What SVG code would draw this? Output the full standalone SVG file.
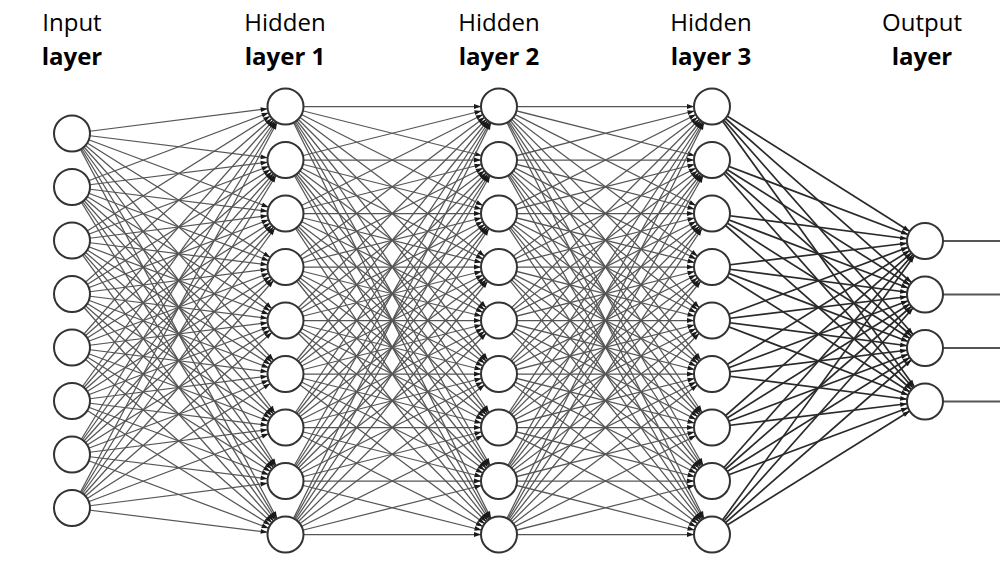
<svg xmlns="http://www.w3.org/2000/svg" width="1000" height="562" viewBox="0 0 1000 562">
<style>
.t{font-family:"Open Sans","Liberation Sans",sans-serif;font-size:24px;fill:#000;text-anchor:middle}
.b{font-weight:bold}
.n{fill:#fff;stroke:#333;stroke-width:2}
.e line{stroke:#555;stroke-width:1.25;marker-end:url(#ah)}
.e2 line{stroke:#2a2a2a;stroke-width:1.7;marker-end:url(#ah)}
.o line{stroke:#555;stroke-width:2}
</style>
<defs>
<marker id="ah" viewBox="0 0 30 10" refX="26.5" refY="5" markerWidth="30" markerHeight="10" markerUnits="userSpaceOnUse" orient="auto">
<path d="M1.5 2.6L8.5 5L1.5 7.4z" fill="#1a1a1a"/>
</marker>
</defs>
<rect width="1000" height="562" fill="#fff"/>
<g id="labels">
<text class="t" x="72" y="31">Input</text>
<text class="t b" x="72" y="65">layer</text>
<text class="t" x="285" y="31">Hidden</text>
<text class="t b" x="285" y="65">layer 1</text>
<text class="t" x="499" y="31">Hidden</text>
<text class="t b" x="499" y="65">layer 2</text>
<text class="t" x="711" y="31">Hidden</text>
<text class="t b" x="711" y="65">layer 3</text>
<text class="t" x="922" y="31">Output</text>
<text class="t b" x="922" y="65">layer</text>
</g>
<g id="connectors">
<g class="e">
<line x1="72" y1="133.5" x2="285.5" y2="106.5"/><line x1="72" y1="133.5" x2="285.5" y2="160"/><line x1="72" y1="133.5" x2="285.5" y2="213.5"/><line x1="72" y1="133.5" x2="285.5" y2="267"/><line x1="72" y1="133.5" x2="285.5" y2="320.5"/><line x1="72" y1="133.5" x2="285.5" y2="374"/><line x1="72" y1="133.5" x2="285.5" y2="427.5"/><line x1="72" y1="133.5" x2="285.5" y2="481"/><line x1="72" y1="133.5" x2="285.5" y2="534.5"/>
<line x1="72" y1="187" x2="285.5" y2="106.5"/><line x1="72" y1="187" x2="285.5" y2="160"/><line x1="72" y1="187" x2="285.5" y2="213.5"/><line x1="72" y1="187" x2="285.5" y2="267"/><line x1="72" y1="187" x2="285.5" y2="320.5"/><line x1="72" y1="187" x2="285.5" y2="374"/><line x1="72" y1="187" x2="285.5" y2="427.5"/><line x1="72" y1="187" x2="285.5" y2="481"/><line x1="72" y1="187" x2="285.5" y2="534.5"/>
<line x1="72" y1="240.5" x2="285.5" y2="106.5"/><line x1="72" y1="240.5" x2="285.5" y2="160"/><line x1="72" y1="240.5" x2="285.5" y2="213.5"/><line x1="72" y1="240.5" x2="285.5" y2="267"/><line x1="72" y1="240.5" x2="285.5" y2="320.5"/><line x1="72" y1="240.5" x2="285.5" y2="374"/><line x1="72" y1="240.5" x2="285.5" y2="427.5"/><line x1="72" y1="240.5" x2="285.5" y2="481"/><line x1="72" y1="240.5" x2="285.5" y2="534.5"/>
<line x1="72" y1="294" x2="285.5" y2="106.5"/><line x1="72" y1="294" x2="285.5" y2="160"/><line x1="72" y1="294" x2="285.5" y2="213.5"/><line x1="72" y1="294" x2="285.5" y2="267"/><line x1="72" y1="294" x2="285.5" y2="320.5"/><line x1="72" y1="294" x2="285.5" y2="374"/><line x1="72" y1="294" x2="285.5" y2="427.5"/><line x1="72" y1="294" x2="285.5" y2="481"/><line x1="72" y1="294" x2="285.5" y2="534.5"/>
<line x1="72" y1="347.5" x2="285.5" y2="106.5"/><line x1="72" y1="347.5" x2="285.5" y2="160"/><line x1="72" y1="347.5" x2="285.5" y2="213.5"/><line x1="72" y1="347.5" x2="285.5" y2="267"/><line x1="72" y1="347.5" x2="285.5" y2="320.5"/><line x1="72" y1="347.5" x2="285.5" y2="374"/><line x1="72" y1="347.5" x2="285.5" y2="427.5"/><line x1="72" y1="347.5" x2="285.5" y2="481"/><line x1="72" y1="347.5" x2="285.5" y2="534.5"/>
<line x1="72" y1="401" x2="285.5" y2="106.5"/><line x1="72" y1="401" x2="285.5" y2="160"/><line x1="72" y1="401" x2="285.5" y2="213.5"/><line x1="72" y1="401" x2="285.5" y2="267"/><line x1="72" y1="401" x2="285.5" y2="320.5"/><line x1="72" y1="401" x2="285.5" y2="374"/><line x1="72" y1="401" x2="285.5" y2="427.5"/><line x1="72" y1="401" x2="285.5" y2="481"/><line x1="72" y1="401" x2="285.5" y2="534.5"/>
<line x1="72" y1="454.5" x2="285.5" y2="106.5"/><line x1="72" y1="454.5" x2="285.5" y2="160"/><line x1="72" y1="454.5" x2="285.5" y2="213.5"/><line x1="72" y1="454.5" x2="285.5" y2="267"/><line x1="72" y1="454.5" x2="285.5" y2="320.5"/><line x1="72" y1="454.5" x2="285.5" y2="374"/><line x1="72" y1="454.5" x2="285.5" y2="427.5"/><line x1="72" y1="454.5" x2="285.5" y2="481"/><line x1="72" y1="454.5" x2="285.5" y2="534.5"/>
<line x1="72" y1="508" x2="285.5" y2="106.5"/><line x1="72" y1="508" x2="285.5" y2="160"/><line x1="72" y1="508" x2="285.5" y2="213.5"/><line x1="72" y1="508" x2="285.5" y2="267"/><line x1="72" y1="508" x2="285.5" y2="320.5"/><line x1="72" y1="508" x2="285.5" y2="374"/><line x1="72" y1="508" x2="285.5" y2="427.5"/><line x1="72" y1="508" x2="285.5" y2="481"/><line x1="72" y1="508" x2="285.5" y2="534.5"/>
</g>
<g class="e">
<line x1="285.5" y1="106.5" x2="499" y2="106.5"/><line x1="285.5" y1="106.5" x2="499" y2="160"/><line x1="285.5" y1="106.5" x2="499" y2="213.5"/><line x1="285.5" y1="106.5" x2="499" y2="267"/><line x1="285.5" y1="106.5" x2="499" y2="320.5"/><line x1="285.5" y1="106.5" x2="499" y2="374"/><line x1="285.5" y1="106.5" x2="499" y2="427.5"/><line x1="285.5" y1="106.5" x2="499" y2="481"/><line x1="285.5" y1="106.5" x2="499" y2="534.5"/>
<line x1="285.5" y1="160" x2="499" y2="106.5"/><line x1="285.5" y1="160" x2="499" y2="160"/><line x1="285.5" y1="160" x2="499" y2="213.5"/><line x1="285.5" y1="160" x2="499" y2="267"/><line x1="285.5" y1="160" x2="499" y2="320.5"/><line x1="285.5" y1="160" x2="499" y2="374"/><line x1="285.5" y1="160" x2="499" y2="427.5"/><line x1="285.5" y1="160" x2="499" y2="481"/><line x1="285.5" y1="160" x2="499" y2="534.5"/>
<line x1="285.5" y1="213.5" x2="499" y2="106.5"/><line x1="285.5" y1="213.5" x2="499" y2="160"/><line x1="285.5" y1="213.5" x2="499" y2="213.5"/><line x1="285.5" y1="213.5" x2="499" y2="267"/><line x1="285.5" y1="213.5" x2="499" y2="320.5"/><line x1="285.5" y1="213.5" x2="499" y2="374"/><line x1="285.5" y1="213.5" x2="499" y2="427.5"/><line x1="285.5" y1="213.5" x2="499" y2="481"/><line x1="285.5" y1="213.5" x2="499" y2="534.5"/>
<line x1="285.5" y1="267" x2="499" y2="106.5"/><line x1="285.5" y1="267" x2="499" y2="160"/><line x1="285.5" y1="267" x2="499" y2="213.5"/><line x1="285.5" y1="267" x2="499" y2="267"/><line x1="285.5" y1="267" x2="499" y2="320.5"/><line x1="285.5" y1="267" x2="499" y2="374"/><line x1="285.5" y1="267" x2="499" y2="427.5"/><line x1="285.5" y1="267" x2="499" y2="481"/><line x1="285.5" y1="267" x2="499" y2="534.5"/>
<line x1="285.5" y1="320.5" x2="499" y2="106.5"/><line x1="285.5" y1="320.5" x2="499" y2="160"/><line x1="285.5" y1="320.5" x2="499" y2="213.5"/><line x1="285.5" y1="320.5" x2="499" y2="267"/><line x1="285.5" y1="320.5" x2="499" y2="320.5"/><line x1="285.5" y1="320.5" x2="499" y2="374"/><line x1="285.5" y1="320.5" x2="499" y2="427.5"/><line x1="285.5" y1="320.5" x2="499" y2="481"/><line x1="285.5" y1="320.5" x2="499" y2="534.5"/>
<line x1="285.5" y1="374" x2="499" y2="106.5"/><line x1="285.5" y1="374" x2="499" y2="160"/><line x1="285.5" y1="374" x2="499" y2="213.5"/><line x1="285.5" y1="374" x2="499" y2="267"/><line x1="285.5" y1="374" x2="499" y2="320.5"/><line x1="285.5" y1="374" x2="499" y2="374"/><line x1="285.5" y1="374" x2="499" y2="427.5"/><line x1="285.5" y1="374" x2="499" y2="481"/><line x1="285.5" y1="374" x2="499" y2="534.5"/>
<line x1="285.5" y1="427.5" x2="499" y2="106.5"/><line x1="285.5" y1="427.5" x2="499" y2="160"/><line x1="285.5" y1="427.5" x2="499" y2="213.5"/><line x1="285.5" y1="427.5" x2="499" y2="267"/><line x1="285.5" y1="427.5" x2="499" y2="320.5"/><line x1="285.5" y1="427.5" x2="499" y2="374"/><line x1="285.5" y1="427.5" x2="499" y2="427.5"/><line x1="285.5" y1="427.5" x2="499" y2="481"/><line x1="285.5" y1="427.5" x2="499" y2="534.5"/>
<line x1="285.5" y1="481" x2="499" y2="106.5"/><line x1="285.5" y1="481" x2="499" y2="160"/><line x1="285.5" y1="481" x2="499" y2="213.5"/><line x1="285.5" y1="481" x2="499" y2="267"/><line x1="285.5" y1="481" x2="499" y2="320.5"/><line x1="285.5" y1="481" x2="499" y2="374"/><line x1="285.5" y1="481" x2="499" y2="427.5"/><line x1="285.5" y1="481" x2="499" y2="481"/><line x1="285.5" y1="481" x2="499" y2="534.5"/>
<line x1="285.5" y1="534.5" x2="499" y2="106.5"/><line x1="285.5" y1="534.5" x2="499" y2="160"/><line x1="285.5" y1="534.5" x2="499" y2="213.5"/><line x1="285.5" y1="534.5" x2="499" y2="267"/><line x1="285.5" y1="534.5" x2="499" y2="320.5"/><line x1="285.5" y1="534.5" x2="499" y2="374"/><line x1="285.5" y1="534.5" x2="499" y2="427.5"/><line x1="285.5" y1="534.5" x2="499" y2="481"/><line x1="285.5" y1="534.5" x2="499" y2="534.5"/>
</g>
<g class="e">
<line x1="499" y1="106.5" x2="712" y2="106.5"/><line x1="499" y1="106.5" x2="712" y2="160"/><line x1="499" y1="106.5" x2="712" y2="213.5"/><line x1="499" y1="106.5" x2="712" y2="267"/><line x1="499" y1="106.5" x2="712" y2="320.5"/><line x1="499" y1="106.5" x2="712" y2="374"/><line x1="499" y1="106.5" x2="712" y2="427.5"/><line x1="499" y1="106.5" x2="712" y2="481"/><line x1="499" y1="106.5" x2="712" y2="534.5"/>
<line x1="499" y1="160" x2="712" y2="106.5"/><line x1="499" y1="160" x2="712" y2="160"/><line x1="499" y1="160" x2="712" y2="213.5"/><line x1="499" y1="160" x2="712" y2="267"/><line x1="499" y1="160" x2="712" y2="320.5"/><line x1="499" y1="160" x2="712" y2="374"/><line x1="499" y1="160" x2="712" y2="427.5"/><line x1="499" y1="160" x2="712" y2="481"/><line x1="499" y1="160" x2="712" y2="534.5"/>
<line x1="499" y1="213.5" x2="712" y2="106.5"/><line x1="499" y1="213.5" x2="712" y2="160"/><line x1="499" y1="213.5" x2="712" y2="213.5"/><line x1="499" y1="213.5" x2="712" y2="267"/><line x1="499" y1="213.5" x2="712" y2="320.5"/><line x1="499" y1="213.5" x2="712" y2="374"/><line x1="499" y1="213.5" x2="712" y2="427.5"/><line x1="499" y1="213.5" x2="712" y2="481"/><line x1="499" y1="213.5" x2="712" y2="534.5"/>
<line x1="499" y1="267" x2="712" y2="106.5"/><line x1="499" y1="267" x2="712" y2="160"/><line x1="499" y1="267" x2="712" y2="213.5"/><line x1="499" y1="267" x2="712" y2="267"/><line x1="499" y1="267" x2="712" y2="320.5"/><line x1="499" y1="267" x2="712" y2="374"/><line x1="499" y1="267" x2="712" y2="427.5"/><line x1="499" y1="267" x2="712" y2="481"/><line x1="499" y1="267" x2="712" y2="534.5"/>
<line x1="499" y1="320.5" x2="712" y2="106.5"/><line x1="499" y1="320.5" x2="712" y2="160"/><line x1="499" y1="320.5" x2="712" y2="213.5"/><line x1="499" y1="320.5" x2="712" y2="267"/><line x1="499" y1="320.5" x2="712" y2="320.5"/><line x1="499" y1="320.5" x2="712" y2="374"/><line x1="499" y1="320.5" x2="712" y2="427.5"/><line x1="499" y1="320.5" x2="712" y2="481"/><line x1="499" y1="320.5" x2="712" y2="534.5"/>
<line x1="499" y1="374" x2="712" y2="106.5"/><line x1="499" y1="374" x2="712" y2="160"/><line x1="499" y1="374" x2="712" y2="213.5"/><line x1="499" y1="374" x2="712" y2="267"/><line x1="499" y1="374" x2="712" y2="320.5"/><line x1="499" y1="374" x2="712" y2="374"/><line x1="499" y1="374" x2="712" y2="427.5"/><line x1="499" y1="374" x2="712" y2="481"/><line x1="499" y1="374" x2="712" y2="534.5"/>
<line x1="499" y1="427.5" x2="712" y2="106.5"/><line x1="499" y1="427.5" x2="712" y2="160"/><line x1="499" y1="427.5" x2="712" y2="213.5"/><line x1="499" y1="427.5" x2="712" y2="267"/><line x1="499" y1="427.5" x2="712" y2="320.5"/><line x1="499" y1="427.5" x2="712" y2="374"/><line x1="499" y1="427.5" x2="712" y2="427.5"/><line x1="499" y1="427.5" x2="712" y2="481"/><line x1="499" y1="427.5" x2="712" y2="534.5"/>
<line x1="499" y1="481" x2="712" y2="106.5"/><line x1="499" y1="481" x2="712" y2="160"/><line x1="499" y1="481" x2="712" y2="213.5"/><line x1="499" y1="481" x2="712" y2="267"/><line x1="499" y1="481" x2="712" y2="320.5"/><line x1="499" y1="481" x2="712" y2="374"/><line x1="499" y1="481" x2="712" y2="427.5"/><line x1="499" y1="481" x2="712" y2="481"/><line x1="499" y1="481" x2="712" y2="534.5"/>
<line x1="499" y1="534.5" x2="712" y2="106.5"/><line x1="499" y1="534.5" x2="712" y2="160"/><line x1="499" y1="534.5" x2="712" y2="213.5"/><line x1="499" y1="534.5" x2="712" y2="267"/><line x1="499" y1="534.5" x2="712" y2="320.5"/><line x1="499" y1="534.5" x2="712" y2="374"/><line x1="499" y1="534.5" x2="712" y2="427.5"/><line x1="499" y1="534.5" x2="712" y2="481"/><line x1="499" y1="534.5" x2="712" y2="534.5"/>
</g>
<g class="e2">
<line x1="712" y1="106.5" x2="925" y2="241"/><line x1="712" y1="106.5" x2="925" y2="294.5"/><line x1="712" y1="106.5" x2="925" y2="348"/><line x1="712" y1="106.5" x2="925" y2="401.5"/>
<line x1="712" y1="160" x2="925" y2="241"/><line x1="712" y1="160" x2="925" y2="294.5"/><line x1="712" y1="160" x2="925" y2="348"/><line x1="712" y1="160" x2="925" y2="401.5"/>
<line x1="712" y1="213.5" x2="925" y2="241"/><line x1="712" y1="213.5" x2="925" y2="294.5"/><line x1="712" y1="213.5" x2="925" y2="348"/><line x1="712" y1="213.5" x2="925" y2="401.5"/>
<line x1="712" y1="267" x2="925" y2="241"/><line x1="712" y1="267" x2="925" y2="294.5"/><line x1="712" y1="267" x2="925" y2="348"/><line x1="712" y1="267" x2="925" y2="401.5"/>
<line x1="712" y1="320.5" x2="925" y2="241"/><line x1="712" y1="320.5" x2="925" y2="294.5"/><line x1="712" y1="320.5" x2="925" y2="348"/><line x1="712" y1="320.5" x2="925" y2="401.5"/>
<line x1="712" y1="374" x2="925" y2="241"/><line x1="712" y1="374" x2="925" y2="294.5"/><line x1="712" y1="374" x2="925" y2="348"/><line x1="712" y1="374" x2="925" y2="401.5"/>
<line x1="712" y1="427.5" x2="925" y2="241"/><line x1="712" y1="427.5" x2="925" y2="294.5"/><line x1="712" y1="427.5" x2="925" y2="348"/><line x1="712" y1="427.5" x2="925" y2="401.5"/>
<line x1="712" y1="481" x2="925" y2="241"/><line x1="712" y1="481" x2="925" y2="294.5"/><line x1="712" y1="481" x2="925" y2="348"/><line x1="712" y1="481" x2="925" y2="401.5"/>
<line x1="712" y1="534.5" x2="925" y2="241"/><line x1="712" y1="534.5" x2="925" y2="294.5"/><line x1="712" y1="534.5" x2="925" y2="348"/><line x1="712" y1="534.5" x2="925" y2="401.5"/>
</g>
<g class="o">
<line x1="943" y1="241" x2="1000" y2="241"/><line x1="943" y1="294.5" x2="1000" y2="294.5"/><line x1="943" y1="348" x2="1000" y2="348"/><line x1="943" y1="401.5" x2="1000" y2="401.5"/>
</g>
</g>
<g id="input-layer">
<g id="in1"><circle class="n" cx="72" cy="133.5" r="18"/></g>
<g id="in2"><circle class="n" cx="72" cy="187" r="18"/></g>
<g id="in3"><circle class="n" cx="72" cy="240.5" r="18"/></g>
<g id="in4"><circle class="n" cx="72" cy="294" r="18"/></g>
<g id="in5"><circle class="n" cx="72" cy="347.5" r="18"/></g>
<g id="in6"><circle class="n" cx="72" cy="401" r="18"/></g>
<g id="in7"><circle class="n" cx="72" cy="454.5" r="18"/></g>
<g id="in8"><circle class="n" cx="72" cy="508" r="18"/></g>
</g>
<g id="hidden-layer-1">
<g id="h1n1"><circle class="n" cx="285.5" cy="106.5" r="18"/></g>
<g id="h1n2"><circle class="n" cx="285.5" cy="160" r="18"/></g>
<g id="h1n3"><circle class="n" cx="285.5" cy="213.5" r="18"/></g>
<g id="h1n4"><circle class="n" cx="285.5" cy="267" r="18"/></g>
<g id="h1n5"><circle class="n" cx="285.5" cy="320.5" r="18"/></g>
<g id="h1n6"><circle class="n" cx="285.5" cy="374" r="18"/></g>
<g id="h1n7"><circle class="n" cx="285.5" cy="427.5" r="18"/></g>
<g id="h1n8"><circle class="n" cx="285.5" cy="481" r="18"/></g>
<g id="h1n9"><circle class="n" cx="285.5" cy="534.5" r="18"/></g>
</g>
<g id="hidden-layer-2">
<g id="h2n1"><circle class="n" cx="499" cy="106.5" r="18"/></g>
<g id="h2n2"><circle class="n" cx="499" cy="160" r="18"/></g>
<g id="h2n3"><circle class="n" cx="499" cy="213.5" r="18"/></g>
<g id="h2n4"><circle class="n" cx="499" cy="267" r="18"/></g>
<g id="h2n5"><circle class="n" cx="499" cy="320.5" r="18"/></g>
<g id="h2n6"><circle class="n" cx="499" cy="374" r="18"/></g>
<g id="h2n7"><circle class="n" cx="499" cy="427.5" r="18"/></g>
<g id="h2n8"><circle class="n" cx="499" cy="481" r="18"/></g>
<g id="h2n9"><circle class="n" cx="499" cy="534.5" r="18"/></g>
</g>
<g id="hidden-layer-3">
<g id="h3n1"><circle class="n" cx="712" cy="106.5" r="18"/></g>
<g id="h3n2"><circle class="n" cx="712" cy="160" r="18"/></g>
<g id="h3n3"><circle class="n" cx="712" cy="213.5" r="18"/></g>
<g id="h3n4"><circle class="n" cx="712" cy="267" r="18"/></g>
<g id="h3n5"><circle class="n" cx="712" cy="320.5" r="18"/></g>
<g id="h3n6"><circle class="n" cx="712" cy="374" r="18"/></g>
<g id="h3n7"><circle class="n" cx="712" cy="427.5" r="18"/></g>
<g id="h3n8"><circle class="n" cx="712" cy="481" r="18"/></g>
<g id="h3n9"><circle class="n" cx="712" cy="534.5" r="18"/></g>
</g>
<g id="output-layer">
<g id="out1"><circle class="n" cx="925" cy="241" r="18"/></g>
<g id="out2"><circle class="n" cx="925" cy="294.5" r="18"/></g>
<g id="out3"><circle class="n" cx="925" cy="348" r="18"/></g>
<g id="out4"><circle class="n" cx="925" cy="401.5" r="18"/></g>
</g>
</svg>
